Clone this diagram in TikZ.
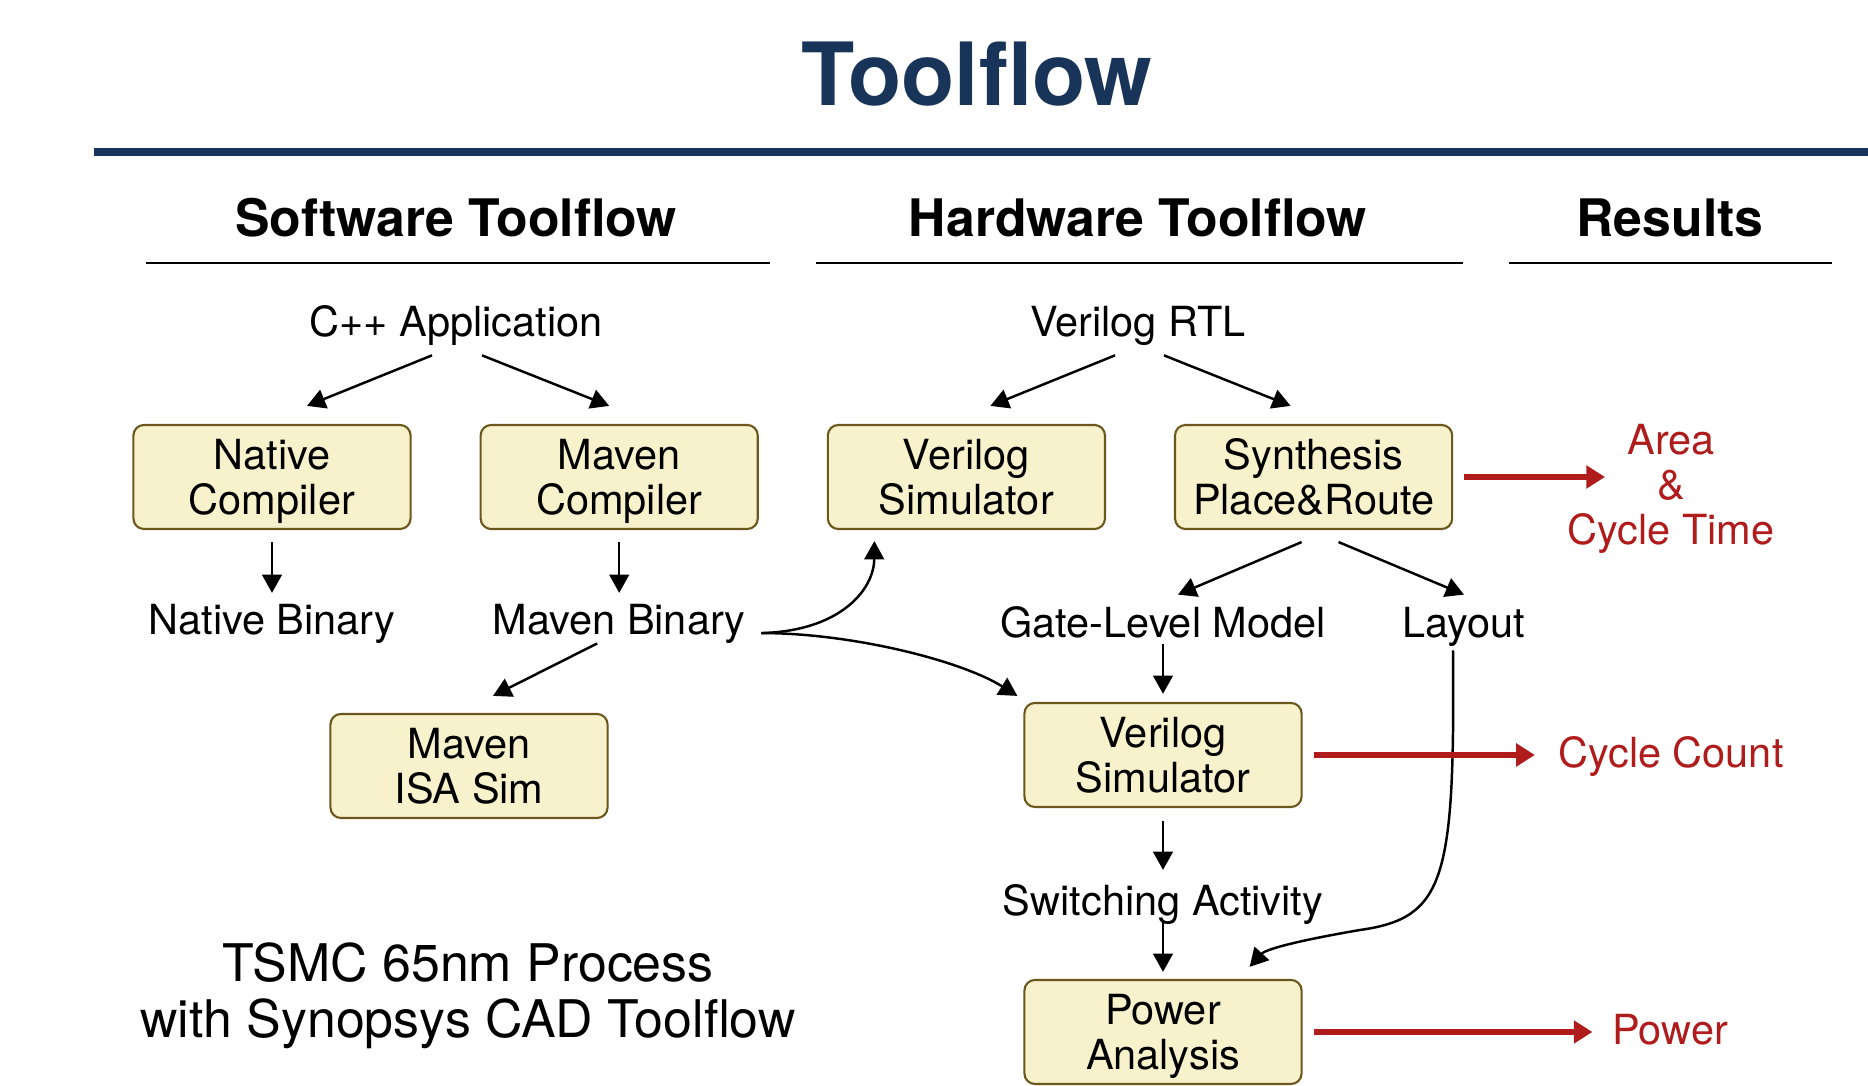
\documentclass[tikz,border=0pt]{standalone}
\usepackage{fontspec}
\setmainfont{TeX Gyre Heros}
\usepackage{xcolor}
\usetikzlibrary{positioning, arrows.meta, calc}
\definecolor{navy}{RGB}{24,52,88}
\definecolor{boxfill}{RGB}{247,242,204}
\definecolor{boxline}{RGB}{108,88,28}
\definecolor{resred}{RGB}{176,28,28}
\newcommand{\flowtext}{\fontsize{11.8}{12.8}\selectfont}
% two lines, centred on the middle of the capitals
\newcommand{\twolines}[2]{\rule{0pt}{0.93em}#1\\#2\rule[-0.21em]{0pt}{0.21em}}
\tikzset{
	>={Triangle[length=5.2pt,width=5.6pt]},
	node distance=3.47cm,
	align=center,
	tool/.style={draw=boxline, fill=boxfill, line width=0.6pt, rounded corners=3pt, minimum width=2.77cm, minimum height=1.04cm, inner sep=0pt, font=\flowtext},
	datum/.style={inner sep=0pt, text height=0.72em, text depth=0pt, font=\flowtext},
	heading/.style={font=\bfseries\fontsize{14.7}{16}\selectfont, anchor=base},
	flow/.style={->, line width=0.7pt},
	yield/.style={-{Triangle[length=5.3pt,width=6.3pt]}, draw=resred, line width=1.5pt, shorten <=3.1pt}
}

\begin{document}
\begin{tikzpicture}[x=0.01cm, y=-0.01cm]
	\useasboundingbox (0,0) rectangle (1868,1086);
	
	\node[font=\bfseries\fontsize{24.8}{28}\selectfont, text=navy, anchor=base] (title) at (977,106) {Toolflow};
	\draw[navy, line width=2pt] (94,152) -- (1868,152);
	
	\node[heading] (sw) at (456,237) {Software Toolflow};
	\node[heading] (hw) at (1138,237) {Hardware Toolflow};
	\node[heading] (res) at (1670,237) {Results};
	\draw[line width=0.8pt] (146,263) -- (770,263) (816,263) -- (1463,263) (1509,263) -- (1832,263);
	
	% software side
	\node[datum] (capp) at (456,324) {C++ Application};
	\node[tool] (ncomp) at (272,477) {\twolines{Native}{Compiler}};
	\node[tool, right of=ncomp] (mcomp) {\twolines{Maven}{Compiler}};
	\node[datum, below of=ncomp, node distance=1.45cm] (nbin) {Native Binary};
	\node[datum, below of=mcomp, node distance=1.45cm] (mbin) {Maven Binary};
	\node[tool] (isa) at (469,766) {\twolines{Maven}{ISA Sim}};
	
	% hardware side
	\node[datum] (vrtl) at (1138,324) {Verilog RTL};
	\node[tool, right of=mcomp] (vsim) {\twolines{Verilog}{Simulator}};
	\node[tool, right of=vsim] (synth) {\twolines{Synthesis}{Place\&Route}};
	\node[datum] (glm) at (1163,625) {Gate-Level Model};
	\node[datum] (lay) at (1464,625) {Layout};
	\node[tool] (gsim) at (1163,755) {\twolines{Verilog}{Simulator}};
	\node[datum] (swa) at (1163,903) {Switching Activity};
	\node[tool] (pwr) at (1163,1032) {\twolines{Power}{Analysis}};
	
	% results
	\node[inner sep=0pt, font=\flowtext, text=resred] (area) at (1671,489) {Area\\\&\\Cycle Time};
	\coordinate (areain) at (1605,477);
	\node[datum, text=resred] (ccnt) at (1671,755) {Cycle Count};
	\node[datum, text=resred] (pout) at (1670,1032) {Power};
	
	\node[font=\fontsize{14.75}{16}\selectfont] (tsmc) at (468,996) {TSMC 65nm Process\\with Synopsys CAD Toolflow};
	
	\path[every edge/.append style={flow}]
	($(capp.south)+(-24,18)$) edge ($(ncomp.north)+(35,-18)$)
	($(capp.south)+(26,18)$) edge ($(mcomp.north)+(-10,-18)$)
	(ncomp) edge[shorten <=3.4pt, shorten >=4.5pt] (nbin)
	(mcomp) edge[shorten <=3.4pt, shorten >=4.5pt] (mbin)
	($(mbin.south)+(-22,8)$) edge ($(isa.north)+(24,-17)$)
	
	($(vrtl.south)+(-23,18)$) edge ($(vsim.north)+(24,-18)$)
	($(vrtl.south)+(26,18)$) edge ($(synth.north)+(-23,-18)$)
	($(synth.south)+(-12,12)$) edge ($(glm.north)+(15,-17)$)
	($(synth.south)+(25,12)$) edge ($(lay.north)+(0,-17)$)
	(glm) edge[shorten <=1.5pt, shorten >=2.3pt] (gsim)
	(gsim) edge[shorten <=3.7pt, shorten >=5.6pt] (swa)
	(swa) edge[shorten <=1.5pt, shorten >=2pt] (pwr)
	;
	
	\draw[flow] ($(mbin.east)+(15,11)$) .. controls (840,631) and (874,590) .. ($(vsim.south)+(-92,11)$);
	\draw[flow] ($(mbin.east)+(15,11)$) .. controls (850,633) and (960,660) .. ($(gsim.north west)+(-6,-6)$);
	\draw[flow] ($(lay.south)+(-11,12)$) .. controls (1455,880) and (1445,918) .. (1360,930) .. controls (1290,942) and (1265,950) .. ($(pwr.north east)+(-53,-12)$);
	
	\draw[yield] (synth.east) -- (areain);
	\draw[yield, shorten >=6.5pt] (gsim.east) -- (gsim.east -| ccnt.west);
	\draw[yield, shorten >=5.4pt] (pwr.east) -- (pwr.east -| pout.west);
\end{tikzpicture}
\end{document}
